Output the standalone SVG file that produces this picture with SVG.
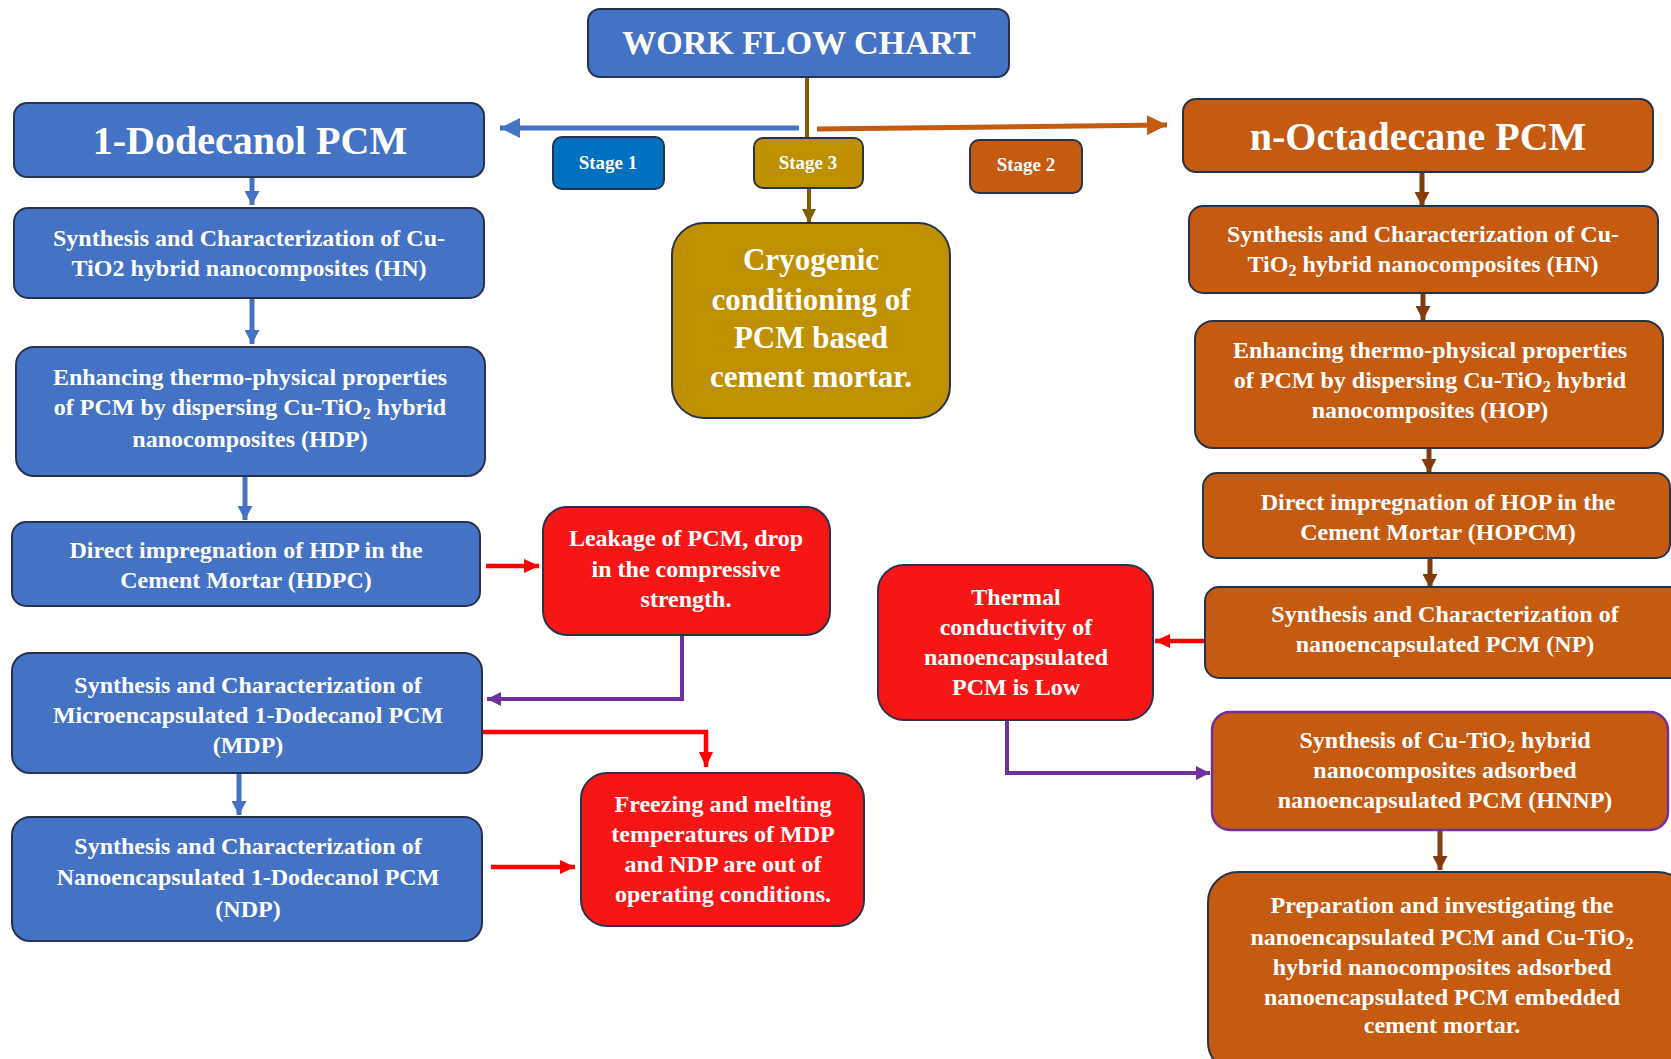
<svg xmlns="http://www.w3.org/2000/svg" width="1671" height="1059" viewBox="0 0 1671 1059">
<style>
  text { font-family: "Liberation Serif", "Times New Roman", serif; font-weight: bold; fill: #ffffff; text-anchor: middle; }
  .t24 { font-size: 24px; }
  .t40 { font-size: 40px; }
  .sub { font-size: 16px; }
  .box { stroke: #27324d; stroke-width: 2; }
  .blue { fill: #4472C4; }
  .orange { fill: #C55A11; }
  .gold { fill: #BF9000; }
  .red { fill: #F71616; }
  .s1 { fill: #0070C0; }
  .ln { fill: none; stroke-linejoin: miter; }
  .cb { stroke: #4472C4; stroke-width: 5; }
  .cbr { stroke: #843C0C; stroke-width: 5; }
  .co { stroke: #C55A11; stroke-width: 5; }
  .cg { stroke: #7F6000; stroke-width: 4; }
  .cr { stroke: #FF0000; stroke-width: 4.5; }
  .cp { stroke: #7030A0; stroke-width: 4; }
</style>
<defs>
  <marker id="hbL" viewBox="0 0 10 10" refX="10" refY="5" markerWidth="20" markerHeight="20" markerUnits="userSpaceOnUse" orient="auto"><path d="M0,0 L10,5 L0,10 z" fill="#4472C4"/></marker>
  <marker id="hb" viewBox="0 0 10 10" refX="10" refY="5" markerWidth="14" markerHeight="15" markerUnits="userSpaceOnUse" orient="auto" preserveAspectRatio="none"><path d="M0,0 L10,5 L0,10 z" fill="#4472C4"/></marker>
  <marker id="hbr" viewBox="0 0 10 10" refX="10" refY="5" markerWidth="14" markerHeight="15" markerUnits="userSpaceOnUse" orient="auto" preserveAspectRatio="none"><path d="M0,0 L10,5 L0,10 z" fill="#843C0C"/></marker>
  <marker id="ho" viewBox="0 0 10 10" refX="10" refY="5" markerWidth="20" markerHeight="20" markerUnits="userSpaceOnUse" orient="auto"><path d="M0,0 L10,5 L0,10 z" fill="#C55A11"/></marker>
  <marker id="hg" viewBox="0 0 10 10" refX="10" refY="5" markerWidth="14" markerHeight="14" markerUnits="userSpaceOnUse" orient="auto"><path d="M0,0 L10,5 L0,10 z" fill="#7F6000"/></marker>
  <marker id="hr" viewBox="0 0 10 10" refX="10" refY="5" markerWidth="15" markerHeight="14" markerUnits="userSpaceOnUse" orient="auto" preserveAspectRatio="none"><path d="M0,0 L10,5 L0,10 z" fill="#FF0000"/></marker>
  <marker id="hp" viewBox="0 0 10 10" refX="10" refY="5" markerWidth="14" markerHeight="14" markerUnits="userSpaceOnUse" orient="auto"><path d="M0,0 L10,5 L0,10 z" fill="#7030A0"/></marker>
</defs>
<rect width="1671" height="1059" fill="#ffffff"/>

<!-- connectors -->
<g id="connectors" class="ln">
  <line class="cb" x1="799" y1="128" x2="500" y2="128" marker-end="url(#hbL)"/>
  <line class="co" x1="817" y1="129" x2="1167" y2="125" marker-end="url(#ho)"/>
  <line class="cg" x1="807" y1="77" x2="807" y2="138"/>
  <line class="cg" x1="809" y1="188" x2="809" y2="223" marker-end="url(#hg)"/>

  <line class="cb" x1="252" y1="177" x2="252" y2="205" marker-end="url(#hb)"/>
  <line class="cb" x1="252" y1="298" x2="252" y2="344" marker-end="url(#hb)"/>
  <line class="cb" x1="245" y1="476" x2="245" y2="520" marker-end="url(#hb)"/>
  <line class="cb" x1="239" y1="773" x2="239" y2="815" marker-end="url(#hb)"/>

  <line class="cbr" x1="1422" y1="172" x2="1422" y2="206" marker-end="url(#hbr)"/>
  <line class="cbr" x1="1423" y1="293" x2="1423" y2="320" marker-end="url(#hbr)"/>
  <line class="cbr" x1="1429" y1="448" x2="1429" y2="473" marker-end="url(#hbr)"/>
  <line class="cbr" x1="1430" y1="558" x2="1430" y2="588" marker-end="url(#hbr)"/>
  <line class="cbr" x1="1440" y1="830" x2="1440" y2="870" marker-end="url(#hbr)"/>

  <line class="cr" x1="486" y1="566" x2="539" y2="566" marker-end="url(#hr)"/>
  <polyline class="cr" points="482,732 706,732 706,767" marker-end="url(#hr)"/>
  <line class="cr" x1="491" y1="867" x2="575" y2="867" marker-end="url(#hr)"/>
  <line class="cr" x1="1210" y1="641" x2="1155" y2="641" marker-end="url(#hr)"/>

  <polyline class="cp" points="682,635 682,699 487,699" marker-end="url(#hp)"/>
  <polyline class="cp" points="1007,720 1007,773 1210,773" marker-end="url(#hp)"/>
</g>

<!-- header -->
<g id="title">
  <rect class="box blue" x="588" y="9" width="421" height="68" rx="12"/>
  <text x="799" y="54" font-size="34">WORK FLOW CHART</text>
</g>
<g id="stage1">
  <rect class="box s1" x="553" y="137" width="111" height="52" rx="9"/>
  <text x="608" y="169" font-size="19">Stage 1</text>
</g>
<g id="stage3">
  <rect class="box gold" x="754" y="138" width="109" height="50" rx="9"/>
  <text x="808" y="169" font-size="19">Stage 3</text>
</g>
<g id="stage2">
  <rect class="box orange" x="970" y="140" width="112" height="53" rx="9"/>
  <text x="1026" y="171" font-size="19">Stage 2</text>
</g>
<g id="cryogenic">
  <rect class="box gold" x="672" y="223" width="278" height="195" rx="32"/>
  <text font-size="31"><tspan x="811" y="270">Cryogenic</tspan><tspan x="811" y="310">conditioning of</tspan><tspan x="811" y="348">PCM based</tspan><tspan x="811" y="387">cement mortar.</tspan></text>
</g>

<!-- 1-Dodecanol branch -->
<g id="dodecanol">
  <rect class="box blue" x="14" y="103" width="470" height="74" rx="13"/>
  <text class="t40" x="250" y="154">1-Dodecanol PCM</text>
</g>
<g id="hn-left">
  <rect class="box blue" x="14" y="208" width="470" height="90" rx="14"/>
  <text class="t24"><tspan x="249" y="246">Synthesis and Characterization of  Cu-</tspan><tspan x="249" y="276">TiO2 hybrid nanocomposites (HN)</tspan></text>
</g>
<g id="hdp">
  <rect class="box blue" x="16" y="347" width="469" height="129" rx="18"/>
  <text class="t24"><tspan x="250" y="385">Enhancing thermo-physical properties</tspan><tspan x="250" y="415">of PCM by dispersing Cu-TiO<tspan class="sub" dy="4">2</tspan><tspan dy="-4"> hybrid</tspan></tspan><tspan x="250" y="447">nanocomposites (HDP)</tspan></text>
</g>
<g id="hdpc">
  <rect class="box blue" x="12" y="522" width="468" height="84" rx="14"/>
  <text class="t24"><tspan x="246" y="558">Direct impregnation of HDP in the</tspan><tspan x="246" y="588">Cement Mortar (HDPC)</tspan></text>
</g>
<g id="mdp">
  <rect class="box blue" x="12" y="653" width="470" height="120" rx="18"/>
  <text class="t24"><tspan x="248" y="693">Synthesis and Characterization of</tspan><tspan x="248" y="723">Microencapsulated 1-Dodecanol PCM</tspan><tspan x="248" y="753">(MDP)</tspan></text>
</g>
<g id="ndp">
  <rect class="box blue" x="12" y="817" width="470" height="124" rx="18"/>
  <text class="t24"><tspan x="248" y="854">Synthesis and Characterization of</tspan><tspan x="248" y="885">Nanoencapsulated 1-Dodecanol PCM</tspan><tspan x="248" y="917">(NDP)</tspan></text>
</g>

<!-- problems found -->
<g id="leakage">
  <rect class="box red" x="543" y="507" width="287" height="128" rx="24"/>
  <text class="t24"><tspan x="686" y="546">Leakage of PCM, drop</tspan><tspan x="686" y="577">in the compressive</tspan><tspan x="686" y="607">strength.</tspan></text>
</g>
<g id="freezing">
  <rect class="box red" x="581" y="773" width="283" height="153" rx="26"/>
  <text class="t24"><tspan x="723" y="812">Freezing and melting</tspan><tspan x="723" y="842">temperatures of MDP</tspan><tspan x="723" y="872">and NDP are out of</tspan><tspan x="723" y="902">operating conditions.</tspan></text>
</g>
<g id="thermal">
  <rect class="box red" x="878" y="565" width="275" height="155" rx="26"/>
  <text class="t24"><tspan x="1016" y="605">Thermal</tspan><tspan x="1016" y="635">conductivity of</tspan><tspan x="1016" y="665">nanoencapsulated</tspan><tspan x="1016" y="695">PCM is Low</tspan></text>
</g>

<!-- n-Octadecane branch -->
<g id="octadecane">
  <rect class="box orange" x="1183" y="99" width="470" height="73" rx="13"/>
  <text class="t40" x="1418" y="150">n-Octadecane PCM</text>
</g>
<g id="hn-right">
  <rect class="box orange" x="1189" y="206" width="469" height="87" rx="14"/>
  <text class="t24"><tspan x="1423" y="242">Synthesis and Characterization of Cu-</tspan><tspan x="1423" y="272">TiO<tspan class="sub" dy="4">2</tspan><tspan dy="-4"> hybrid nanocomposites (HN)</tspan></tspan></text>
</g>
<g id="hop">
  <rect class="box orange" x="1195" y="321" width="468" height="127" rx="18"/>
  <text class="t24"><tspan x="1430" y="358">Enhancing thermo-physical properties</tspan><tspan x="1430" y="388">of PCM by dispersing Cu-TiO<tspan class="sub" dy="4">2</tspan><tspan dy="-4"> hybrid</tspan></tspan><tspan x="1430" y="418">nanocomposites (HOP)</tspan></text>
</g>
<g id="hopcm">
  <rect class="box orange" x="1203" y="473" width="467" height="85" rx="14"/>
  <text class="t24"><tspan x="1438" y="510">Direct impregnation of HOP in the</tspan><tspan x="1438" y="540">Cement Mortar (HOPCM)</tspan></text>
</g>
<g id="np">
  <rect class="box orange" x="1205" y="587" width="480" height="91" rx="14"/>
  <text class="t24"><tspan x="1445" y="622">Synthesis and Characterization of</tspan><tspan x="1445" y="652">nanoencapsulated PCM (NP)</tspan></text>
</g>
<g id="hnnp">
  <rect class="orange" x="1212" y="712" width="456" height="118" rx="18" stroke="#7030A0" stroke-width="2.5"/>
  <text class="t24"><tspan x="1445" y="748">Synthesis of Cu-TiO<tspan class="sub" dy="4">2</tspan><tspan dy="-4"> hybrid</tspan></tspan><tspan x="1445" y="778">nanocomposites adsorbed</tspan><tspan x="1445" y="808">nanoencapsulated PCM (HNNP)</tspan></text>
</g>
<g id="final">
  <rect class="box orange" x="1208" y="872" width="480" height="200" rx="30"/>
  <text class="t24"><tspan x="1442" y="913">Preparation and investigating the</tspan><tspan x="1442" y="945">nanoencapsulated PCM and Cu-TiO<tspan class="sub" dy="4">2</tspan></tspan><tspan x="1442" y="975">hybrid nanocomposites adsorbed</tspan><tspan x="1442" y="1005">nanoencapsulated PCM embedded</tspan><tspan x="1442" y="1033">cement mortar.</tspan></text>
</g>
</svg>
